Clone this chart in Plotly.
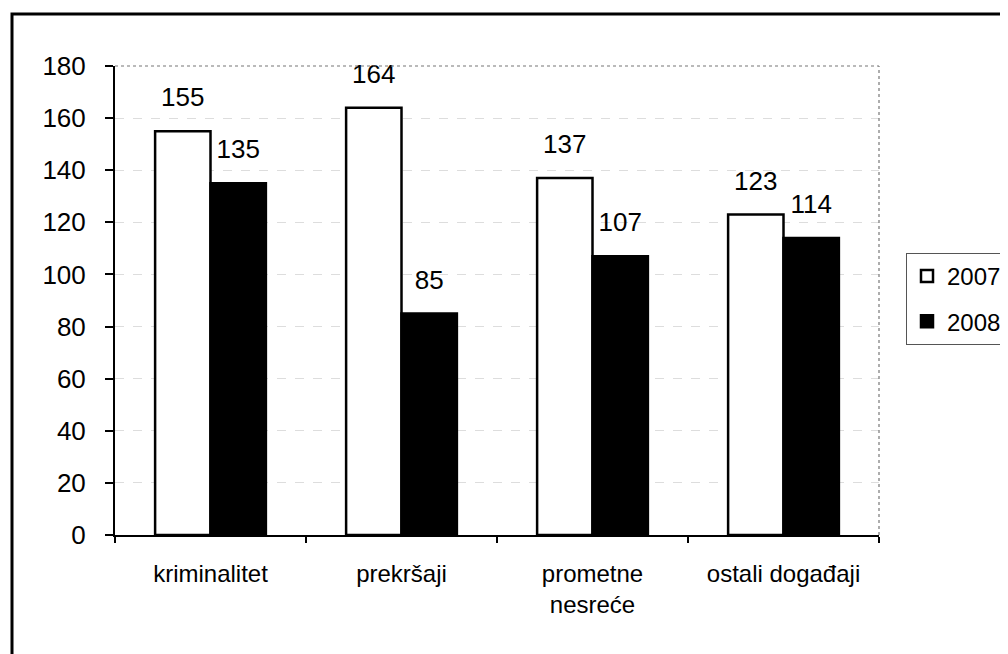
import plotly.graph_objects as go

categories = ["kriminalitet", "prekršaji", "prometne<br>nesreće", "ostali događaji"]
series_names = ["2007", "2008"]
values_2007 = [155, 164, 137, 123]
values_2008 = [135, 85, 107, 114]
y_ticks = [0, 20, 40, 60, 80, 100, 120, 140, 160, 180]

FONT = "Liberation Sans, Arial, sans-serif"

OFF = 8  # page body margin
W, H = 1000, 646
ML, MR, MT, MB = 115 - OFF, 129, 66 - OFF, 119
PW, PH = W - ML - MR, H - MT - MB

def px_x(x):
    return (x - OFF - ML) / PW

def px_y(y):
    return 1 - (y - OFF - MT) / PH

fig = go.Figure()

fig.add_trace(go.Bar(
    name=series_names[0], x=categories, y=values_2007,
    marker=dict(color="white", line=dict(color="black", width=2.5)),
    legendgroup="a", hoverinfo="x+y",
))
fig.add_trace(go.Bar(
    name=series_names[1], x=categories, y=values_2008,
    marker=dict(color="black", line=dict(color="black", width=2.5)),
    legendgroup="b", hoverinfo="x+y",
))

for vals in (values_2007, values_2008):
    fig.add_trace(go.Scatter(
        x=categories, y=vals, mode="markers+text",
        text=[str(v) for v in vals], textposition="top center",
        textfont=dict(family=FONT, size=26, color="black"),
        marker=dict(size=28, opacity=0),
        showlegend=False, hoverinfo="skip", cliponaxis=False,
    ))

shapes = [
    dict(type="line", xref="paper", yref="paper", x0=0, x1=1, y0=1, y1=1,
         line=dict(color="#777777", width=1.2, dash="dot")),
    dict(type="line", xref="paper", yref="paper", x0=1, x1=1, y0=0, y1=1,
         line=dict(color="#777777", width=1.2, dash="dot")),
    dict(type="rect", xref="paper", yref="paper",
         x0=px_x(12), x1=px_x(1030), y0=px_y(680), y1=px_y(14),
         line=dict(color="black", width=3), layer="above"),
]

fig.update_layout(
    width=W, height=H,
    margin=dict(l=ML, r=MR, t=MT, b=MB, autoexpand=False),
    paper_bgcolor="white", plot_bgcolor="white",
    barmode="group", bargap=0.42, bargroupgap=0,
    scattermode="group",
    font=dict(family=FONT, color="black"),
    showlegend=True,
    legend=dict(
        x=px_x(906), y=px_y(253), xanchor="left", yanchor="top",
        font=dict(family=FONT, size=24, color="black"),
        bordercolor="#555555", borderwidth=1,
        traceorder="grouped", tracegroupgap=11,
        bgcolor="white",
    ),
    shapes=shapes,
)

fig.update_yaxes(
    range=[0, 180], tickvals=y_ticks,
    ticks="outside", ticklen=8, tickcolor="black", tickwidth=1.5,
    ticklabelstandoff=14,
    tickfont=dict(family=FONT, size=26, color="black"),
    showline=True, linecolor="black", linewidth=2,
    showgrid=True, gridcolor="#dddddd", gridwidth=1, griddash="dash",
    zeroline=False,
)
fig.update_xaxes(
    tickson="boundaries", ticks="outside", ticklen=6, tickcolor="black", tickwidth=1.5,
    ticklabelstandoff=16,
    tickfont=dict(family=FONT, size=24, color="black"),
    showline=True, linecolor="black", linewidth=2,
    showgrid=False,
)

fig.write_html("out.html")
